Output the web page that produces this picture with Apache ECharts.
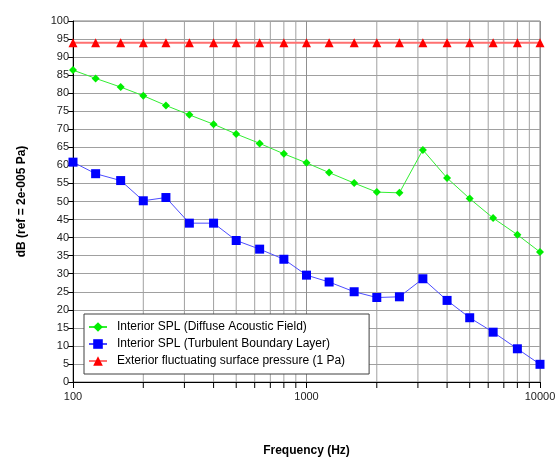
<!DOCTYPE html>
<html>
<head>
<meta charset="utf-8">
<script src="https://cdn.jsdelivr.net/npm/echarts@6/dist/echarts.min.js"></script>
<style>
  html, body { margin: 0; padding: 0; background: #fff; }
  #chart { width: 555px; height: 461px; }
</style>
</head>
<body>
<div id="chart"></div>
<script>
// 1/3 octave centre frequencies
var freqs = [100, 125, 160, 200, 250, 315, 400, 500, 630, 800, 1000, 1250, 1600, 2000, 2500, 3150, 4000, 5000, 6300, 8000, 10000]
var diffuse = [86.4, 84.1, 81.7, 79.3, 76.6, 74.0, 71.4, 68.7, 66.1, 63.2, 60.7, 58.0, 55.1, 52.6, 52.4, 64.3, 56.5, 50.8, 45.4, 40.8, 36.0]
var turbulent = [60.9, 57.7, 55.8, 50.2, 51.1, 44.0, 44.0, 39.2, 36.8, 34.0, 29.6, 27.7, 25.0, 23.4, 23.6, 28.6, 22.6, 17.8, 13.8, 9.2, 4.9]
var exterior = [94, 94, 94, 94, 94, 94, 94, 94, 94, 94, 94, 94, 94, 94, 94, 94, 94, 94, 94, 94, 94]
var names = ['Interior SPL (Diffuse Acoustic Field)', 'Interior SPL (Turbulent Boundary Layer)', 'Exterior fluctuating surface pressure (1 Pa)']
// minor log grid lines
var minorFreqs = [200, 300, 400, 500, 600, 700, 800, 900, 2000, 3000, 4000, 5000, 6000, 7000, 8000, 9000]

function pairs(vals) {
    return freqs.map(function (f, i) { return [f, vals[i]] })
}

var echart = echarts.init(document.getElementById('chart'))
var font = 'Liberation Sans, Arial, sans-serif'

var option = {
    animation: false,
    backgroundColor: '#fff',
    grid: {
        left: 73, right: 15, top: 21, bottom: 79,
        containLabel: false,
        outerBoundsMode: 'none',
        show: true, borderColor: '#808080', borderWidth: 1
    },
    legend: {
        orient: 'vertical',
        left: 84, top: 314,
        data: names,
        backgroundColor: '#fff',
        borderColor: '#404040',
        borderWidth: 1,
        borderRadius: 0,
        padding: [7, 24, 7, 4],
        itemGap: 5,
        itemWidth: 18,
        itemHeight: 12,
        textStyle: { fontFamily: font, fontSize: 12, color: '#000', padding: [0, 0, 0, 5] }
    },
    xAxis: {
        type: 'log',
        logBase: 10,
        min: 100, max: 10000,
        name: 'Frequency (Hz)',
        nameLocation: 'middle',
        nameGap: 63,
        nameTextStyle: { fontFamily: font, fontSize: 12, fontWeight: 'bold', color: '#000' },
        axisLine: { lineStyle: { color: '#000', width: 1 } },
        axisTick: { length: 6, lineStyle: { color: '#000' } },
        axisLabel: {
            fontFamily: font, fontSize: 11, color: '#222', margin: 9,
            formatter: function (v) { return String(Math.round(v)) }
        },
        splitLine: { show: true, lineStyle: { color: '#909090', width: 1 } }
    },
    yAxis: {
        type: 'value',
        min: 0, max: 100, interval: 5,
        name: 'dB (ref = 2e-005 Pa)',
        nameLocation: 'middle',
        nameRotate: 90,
        nameGap: 45,
        nameTextStyle: { fontFamily: font, fontSize: 12, fontWeight: 'bold', color: '#000' },
        axisLine: { show: true, lineStyle: { color: '#000', width: 1 } },
        axisTick: { show: true, length: 5, lineStyle: { color: '#000' } },
        axisLabel: { fontFamily: font, fontSize: 11, color: '#222', margin: 4 },
        splitLine: { show: true, lineStyle: { color: '#a0a0a0', width: 1 } }
    },
    series: [
        { //画对数次网格线和刻度
            type: 'custom',
            silent: true,
            z: 1,
            clip: false,
            data: minorFreqs,
            renderItem: function (params, api) {
                var f = api.value(0)
                var top = api.coord([f, 100])
                var bot = api.coord([f, 0])
                return {
                    type: 'group',
                    children: [{
                        type: 'line',
                        shape: { x1: top[0], y1: top[1], x2: bot[0], y2: bot[1] },
                        style: { stroke: '#a0a0a0', lineWidth: 1 }
                    }, {
                        type: 'line',
                        shape: { x1: bot[0], y1: bot[1], x2: bot[0], y2: bot[1] + 6 },
                        style: { stroke: '#000', lineWidth: 1 }
                    }]
                }
            },
            encode: { x: 0 }
        },
        {
            name: names[0],
            type: 'line',
            data: pairs(diffuse),
            clip: false,
            symbol: 'diamond',
            symbolSize: 8,
            lineStyle: { color: '#33ee33', width: 1 },
            itemStyle: { color: '#00ee00' }
        },
        {
            name: names[1],
            type: 'line',
            data: pairs(turbulent),
            clip: false,
            symbol: 'rect',
            symbolSize: 9,
            lineStyle: { color: '#4d4dff', width: 1 },
            itemStyle: { color: '#0000ff' }
        },
        {
            name: names[2],
            type: 'line',
            data: pairs(exterior),
            clip: false,
            symbol: 'triangle',
            symbolSize: [9, 9],
            lineStyle: { color: '#ff7070', width: 2 },
            itemStyle: { color: '#ff0000' }
        }
    ]
}

echart.setOption(option)
</script>
</body>
</html>
